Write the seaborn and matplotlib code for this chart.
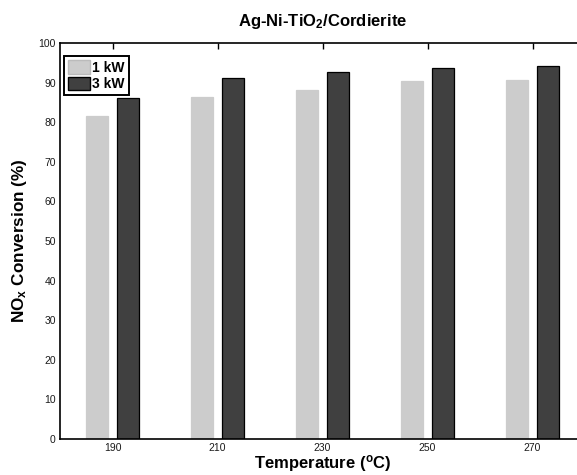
import pandas as pd
import matplotlib
matplotlib.use('Agg')
import matplotlib.pyplot as plt
import seaborn as sns

# values
temperatures = [190, 210, 230, 250, 270]
conv_1kw = [81.6, 86.3, 88.1, 90.4, 90.7]
conv_3kw = [86.0, 91.1, 92.7, 93.7, 94.1]
series_names = ['1 kW', '3 kW']
yticks = list(range(0, 101, 10))

sns.set_style('white')
plt.rcParams['font.family'] = ['Liberation Sans', 'DejaVu Sans']
plt.rcParams['text.color'] = 'black'
plt.rcParams['axes.labelcolor'] = 'black'
plt.rcParams['mathtext.fontset'] = 'custom'
plt.rcParams['mathtext.rm'] = 'Liberation Sans:bold'
plt.rcParams['mathtext.it'] = 'Liberation Sans:bold'
plt.rcParams['mathtext.bf'] = 'Liberation Sans:bold'
plt.rcParams['mathtext.default'] = 'rm'

df = pd.DataFrame({
    'Temperature': temperatures * 2,
    'Conversion': conv_1kw + conv_3kw,
    'Power': [series_names[0]] * len(temperatures) + [series_names[1]] * len(temperatures),
})

fig = plt.figure(figsize=(5.77, 4.75), dpi=100)
# axes runs past the right edge, like the cropped original
ax = fig.add_axes([60 / 577, 36 / 475, 525 / 577, 396 / 475])

sns.barplot(data=df, x='Temperature', y='Conversion', hue='Power',
            palette={'1 kW': '#cccccc', '3 kW': '#404040'},
            native_scale=True, width=0.58, gap=0.27, ax=ax, legend=False)

# edge styling per series
for cont, ec in zip(ax.containers, ['#cccccc', 'black']):
    for bar in cont:
        bar.set_edgecolor(ec)
        bar.set_linewidth(0.9)

ax.set_xlim(180, 280)
ax.set_ylim(0, 100)
ax.set_xticks(temperatures)
ax.set_yticks(yticks)
ax.tick_params(direction='in', top=True, right=False, length=4, width=1,
               labelsize=7.5, pad=3, colors='black')
ax.tick_params(labelcolor='#1a1a1a')
for sp in ax.spines.values():
    sp.set_linewidth(1.2)
    sp.set_color('black')

ax.set_title('Ag-Ni-TiO$_2$/Cordierite', fontsize=12, fontweight='bold', pad=12)
ax.set_xlabel('Temperature ($^o$C)', fontsize=12, fontweight='bold', labelpad=0)
ax.set_ylabel('NO$_x$ Conversion (%)', fontsize=12.3, fontweight='bold', labelpad=7)

handles = [plt.Rectangle((0, 0), 1, 1, facecolor='#cccccc', edgecolor='#bbbbbb'),
           plt.Rectangle((0, 0), 1, 1, facecolor='#404040', edgecolor='black')]
leg = ax.legend(handles, series_names, loc='upper left', bbox_to_anchor=(0.0076, 0.967),
                frameon=True, fancybox=False, framealpha=1, edgecolor='black',
                prop={'weight': 'bold', 'size': 10}, handlelength=1.6, handleheight=1.1,
                handletextpad=0.15, borderpad=0.3, labelspacing=0.15, borderaxespad=0)
leg.get_frame().set_linewidth(1.4)

fig.savefig('out.png', dpi=100)
